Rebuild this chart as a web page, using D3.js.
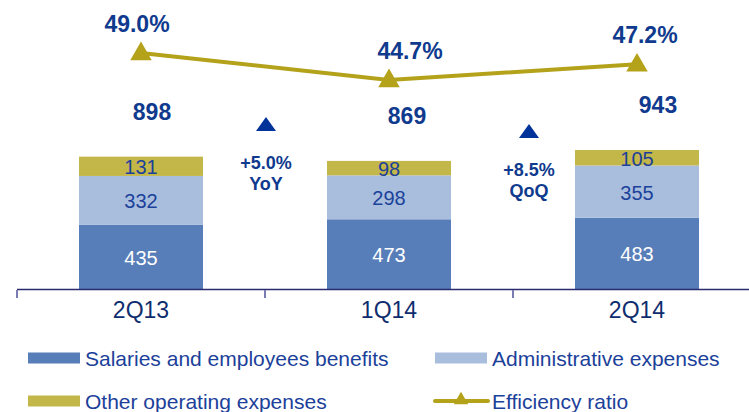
<!DOCTYPE html>
<html>
<head>
<meta charset="utf-8">
<script src="https://cdn.jsdelivr.net/npm/d3@7"></script>
<style>
  body { margin: 0; background: #fff; }
  svg { display: block; font-family: "Liberation Sans", Arial, sans-serif; }
</style>
</head>
<body>
<script>
// chart data
var quarters = ["2Q13", "1Q14", "2Q14"];
var salaries = [435, 473, 483];
var admin = [332, 298, 355];
var other = [131, 98, 105];
var totals = [898, 869, 943];
var efficiency = [49.0, 44.7, 47.2];
var changeValues = ["+5.0%", "+8.5%"];
var changeNames = ["YoY", "QoQ"];
var seriesNames = ["Salaries and employees benefits", "Administrative expenses", "Other operating expenses", "Efficiency ratio"];

(function(){

    var width = 749, height = 412;
    var navy = "#0f3a8e", textBlue = "#1b419a";
    var colors = ["#577eb8", "#a9bedd", "#c4b74a"];
    var lineColor = "#b3a21a";

    var svg = d3.select("body").append("svg")
        .attr("width", width)
        .attr("height", height);

    // x scale: one band per quarter, bars take half of each slot
    var x = d3.scaleBand()
        .domain(quarters)
        .range([17, 761])
        .paddingInner(0.5)
        .paddingOuter(0.25);
    var step = x.step();

    var y = d3.scaleLinear()
        .domain([0, 943])
        .range([289, 150]);

    var yRatio = d3.scaleLinear()
        .domain([44.7, 49.0])
        .range([80, 53]);

    // stack the three cost lines
    var rows = quarters.map(function(q, i){
        return { q: q, s0: salaries[i], s1: admin[i], s2: other[i] };
    });
    var stack = d3.stack().keys(["s0", "s1", "s2"])(rows);

    var layers = svg.selectAll(".layer")
        .data(stack)
        .enter()
        .append("g")
        .attr("class", "layer")
        .attr("fill", function(d, i){ return colors[i]; });

    layers.selectAll("rect")
        .data(function(d){ return d; })
        .enter()
        .append("rect")
        .attr("x", function(d){ return x(d.data.q); })
        .attr("width", x.bandwidth())
        .attr("y", function(d){ return y(d[1]); })
        .attr("height", function(d){ return y(d[0]) - y(d[1]); });

    // segment value labels
    layers.each(function(layer, li){
        d3.select(this).selectAll("text")
            .data(layer)
            .enter()
            .append("text")
            .attr("x", function(d){ return x(d.data.q) + x.bandwidth() / 2; })
            .attr("y", function(d){ return (y(d[0]) + y(d[1])) / 2 + 8; })
            .attr("text-anchor", "middle")
            .attr("font-size", 20)
            .attr("fill", li == 0 ? "#ffffff" : textBlue)
            .text(function(d){ return d[1] - d[0]; });
    });

    // axis line and ticks
    svg.append("line")
        .attr("x1", 17).attr("x2", width)
        .attr("y1", 289.5).attr("y2", 289.5)
        .attr("stroke", "#2b2b70")
        .attr("stroke-width", 1.5);

    var tickXs = quarters.map(function(q){ return x(q) - step * 0.25; });
    svg.selectAll(".tick")
        .data(tickXs)
        .enter()
        .append("line")
        .attr("x1", function(d){ return d; })
        .attr("x2", function(d){ return d; })
        .attr("y1", 290).attr("y2", 298)
        .attr("stroke", "#7b7bb3")
        .attr("stroke-width", 2);

    // category labels
    svg.selectAll(".cat")
        .data(quarters)
        .enter()
        .append("text")
        .attr("x", function(d){ return x(d) + x.bandwidth() / 2; })
        .attr("y", 318)
        .attr("text-anchor", "middle")
        .attr("font-size", 23)
        .attr("fill", "#0e2d6e")
        .text(function(d){ return d; });

    // totals above bars
    var totalNudge = [11, 18, 21];
    svg.selectAll(".total")
        .data(totals)
        .enter()
        .append("text")
        .attr("x", function(d, i){ return x(quarters[i]) + x.bandwidth() / 2 + totalNudge[i]; })
        .attr("y", function(d){ return y(d) - 37; })
        .attr("text-anchor", "middle")
        .attr("font-size", 23)
        .attr("font-weight", "bold")
        .attr("fill", navy)
        .text(function(d){ return d; });

    // efficiency ratio line
    var cx = function(i){ return x(quarters[i]) + x.bandwidth() / 2; };
    var line = d3.line()
        .x(function(d, i){ return cx(i); })
        .y(function(d){ return yRatio(d); });

    svg.append("path")
        .datum(efficiency)
        .attr("d", line)
        .attr("fill", "none")
        .attr("stroke", lineColor)
        .attr("stroke-width", 4);

    var tri = d3.symbol().type(d3.symbolTriangle);
    svg.selectAll(".marker")
        .data(efficiency)
        .enter()
        .append("path")
        .attr("d", tri.size(200))
        .attr("transform", function(d, i){ return "translate(" + cx(i) + "," + (yRatio(d) + 1) + ")"; })
        .attr("fill", lineColor);

    var ratioNudge = [-4, 21, 8];
    svg.selectAll(".ratioLabel")
        .data(efficiency)
        .enter()
        .append("text")
        .attr("x", function(d, i){ return cx(i) + ratioNudge[i]; })
        .attr("y", function(d){ return yRatio(d) - 21; })
        .attr("text-anchor", "middle")
        .attr("font-size", 23)
        .attr("font-weight", "bold")
        .attr("fill", navy)
        .text(function(d){ return d.toFixed(1) + "%"; });

    // change annotations between bars
    var changeX = [tickXs[1] + 1, tickXs[2] + 16];
    var changeY = [124, 131];
    var changes = svg.selectAll(".change")
        .data(changeValues)
        .enter()
        .append("g")
        .attr("transform", function(d, i){ return "translate(" + changeX[i] + "," + changeY[i] + ")"; });

    changes.append("path")
        .attr("d", "M-10,7 L0,-7 L10,7 Z")
        .attr("fill", "#003399");
    changes.append("text")
        .attr("y", 45)
        .attr("text-anchor", "middle")
        .attr("font-size", 18)
        .attr("font-weight", "bold")
        .attr("fill", navy)
        .text(function(d){ return d; });
    changes.append("text")
        .attr("y", 66)
        .attr("text-anchor", "middle")
        .attr("font-size", 18)
        .attr("font-weight", "bold")
        .attr("fill", navy)
        .text(function(d, i){ return changeNames[i]; });

    // legend
    var legendPos = [[28, 358], [435, 358], [28, 401], [435, 401]];
    var legend = svg.selectAll(".legend")
        .data(seriesNames)
        .enter()
        .append("g")
        .attr("transform", function(d, i){ return "translate(" + legendPos[i][0] + "," + legendPos[i][1] + ")"; });

    legend.each(function(d, i){
        var g = d3.select(this);
        if (i < 3){
            g.append("rect")
                .attr("x", 0).attr("y", -5.5)
                .attr("width", 52).attr("height", 11)
                .attr("fill", colors[i]);
        } else {
            g.append("line")
                .attr("x1", 0).attr("x2", 53)
                .attr("y1", 0).attr("y2", 0)
                .attr("stroke", lineColor)
                .attr("stroke-width", 4)
                .attr("stroke-linecap", "round");
            g.append("path")
                .attr("d", tri.size(90))
                .attr("transform", "translate(26,-1)")
                .attr("fill", lineColor);
        }
        g.append("text")
            .attr("x", 57)
            .attr("y", 7.5)
            .attr("font-size", 21)
            .attr("fill", textBlue)
            .text(d);
    });

})();
</script>
</body>
</html>
